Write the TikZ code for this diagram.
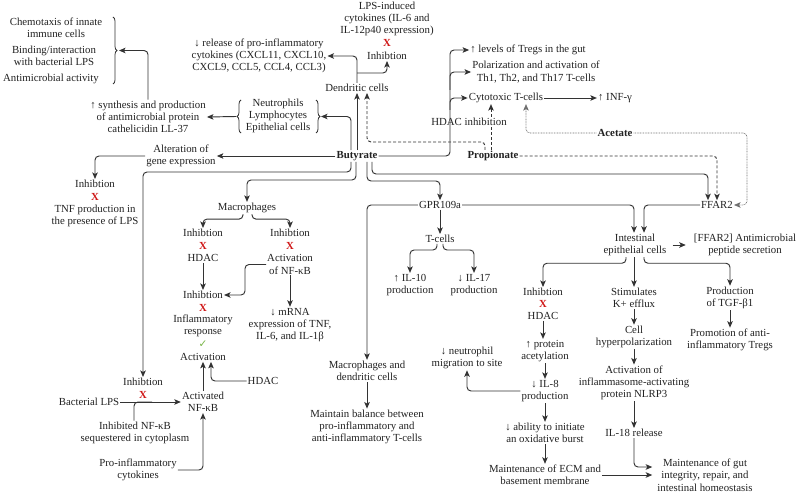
\documentclass[tikz,border=0pt]{standalone}
\usepackage{fontspec}
\setmainfont{Liberation Serif}
\newfontfamily\djv{DejaVu Sans}
\usetikzlibrary{arrows.meta,decorations.pathreplacing,calc}
\definecolor{lc}{HTML}{333333}
\definecolor{tc}{HTML}{222222}
\definecolor{xred}{HTML}{D01818}
\definecolor{okg}{HTML}{7AB648}
\begin{document}
\begin{tikzpicture}[x=1pt,y=-1pt,
  every node/.style={font=\fontsize{10.8}{12.3}\selectfont, text=tc, align=center, inner sep=1pt},
  xr/.style={text=xred, font=\fontsize{10.8}{12.3}\selectfont\bfseries},
  bold/.style={font=\fontsize{10.8}{12.3}\selectfont\bfseries},
  ln/.style={draw=lc, line width=0.95pt, rounded corners=4pt},
  ar/.style={ln, -{Stealth[length=6.5pt,width=5.5pt,inset=1.5pt]}},
  dar/.style={ar, dash pattern=on 3pt off 2pt},
  oar/.style={ar, draw=lc!70, line width=0.7pt, dash pattern=on 0.8pt off 0.8pt},
  brc/.style={draw=lc, line width=0.8pt, decorate, decoration={brace, amplitude=4pt}}]
\fill[white] (0,0) rectangle (800,494);
\useasboundingbox (0,0) rectangle (800,494);

% ---- top left
\node (chemo) at (56,28) {Chemotaxis of innate\\immune cells};
\node (bind) at (54,56) {Binding/interaction\\with bacterial LPS};
\node (amic) at (51,79) {Antimicrobial activity};
\draw[brc] (113,17) -- (113,84);
\coordinate (b1) at (119,50.5);
\node (synth) at (148,117) {↑ synthesis and production\\of antimicrobial protein\\cathelicidin LL-37};
\node (neut) at (278,116) {Neutrophils\\Lymphocytes\\Epithelial cells};
\draw[brc] (241,133) -- (241,100);
\draw[brc] (316,100) -- (316,133);
\coordinate (nbl) at (236,116.5);
\coordinate (nbr) at (321,116.5);

% ---- dendritic
\node (rel) at (259,56) {↓ release of pro-inflammatory\\cytokines (CXCL11, CXCL10,\\CXCL9, CCL5, CCL4, CCL3)};
\node (lpsc) at (387,19) {LPS-induced\\cytokines (IL-6 and\\IL-12p40 expression)};
\node[xr] (x1) at (387,43) {X};
\node (inh1) at (387,56) {Inhibtion};
\node (dc) at (357,88) {Dendritic cells};
\node[bold] (bu) at (357,156) {Butyrate};

% ---- top right
\node (tregs) at (528,50) {↑ levels of Tregs in the gut};
\node (pol) at (536,72) {Polarization and activation of\\Th1, Th2, and Th17 T-cells};
\node (cyt) at (506,98) {Cytotoxic T-cells};
\node (inf) at (615,98) {↑ INF-γ};
\node (hdi) at (469,122) {HDAC inhibition};
\node[bold] (prop) at (493,156) {Propionate};
\node[bold] (acet2) at (615,133) {Acetate};

% ---- left
\node (alt) at (181,156) {Alteration of\\gene expression};
\node (inhL) at (95,184) {Inhibtion};
\node[xr] (xL) at (95,197) {X};
\node (tnf) at (95,216) {TNF production in\\the presence of LPS};

% ---- macrophages
\node (mac) at (247,208) {Macrophages};
\node (mi1a) at (203,233) {Inhibtion};
\node[xr] (mi1x) at (203,246) {X};
\node (mi1h) at (203,258) {HDAC};
\node (mi2a) at (290,233) {Inhibtion};
\node[xr] (mi2x) at (290,246) {X};
\node (mi2n) at (290,264.5) {Activation\\of NF-κB};
\node (inh2) at (203,295) {Inhibtion};
\node[xr] (x2) at (203,308) {X};
\node (infl) at (203,326) {Inflammatory\\response};
\node[text=okg, font=\djv\fontsize{10.5}{11}\selectfont\bfseries] (chk) at (203,344) {✓};
\node (act) at (203,357) {Activation};
\node (mrna) at (290,325) {↓ mRNA\\expression of TNF,\\IL-6, and IL-1β};
\node (hdac2) at (263,381) {HDAC};
\node (actnf) at (203,402) {Activated\\NF-κB};
\node (inhB) at (143,382) {Inhibtion};
\node[xr] (xB) at (143,395) {X};
\node (lps) at (89,402) {Bacterial LPS};
\node (inhnf) at (135,433) {Inhibited NF-κB\\sequestered in cytoplasm};
\node (proinf) at (138,470) {Pro-inflammatory\\cytokines};

% ---- GPR109a
\node (gpr) at (440,205) {GPR109a};
\node (tc) at (440,239) {T-cells};
\node (il10) at (410,285) {↑ IL-10\\production};
\node (il17) at (474,285) {↓ IL-17\\production};
\node (macdc) at (367,371) {Macrophages and\\dendritic cells};
\node (bal) at (367,427) {Maintain balance between\\pro-inflammatory and\\anti-inflammatory T-cells};

% ---- FFAR2 / epithelial
\node (ffar) at (717,205) {FFAR2};
\node (iec) at (635,245) {Intestinal\\epithelial cells};
\node (ffs) at (745,245) {[FFAR2] Antimicrobial\\peptide secretion};
\node (iha) at (543,292) {Inhibtion};
\node[xr] (ihx) at (543,304) {X};
\node (ihh) at (543,316) {HDAC};
\node (stim) at (634,298) {Stimulates\\K+ efflux};
\node (tgf) at (730,298) {Production\\of TGF-β1};
\node (pacet) at (545,351) {↑ protein\\acetylation};
\node (il8) at (545,391) {↓ IL-8\\production};
\node (neu) at (467,358) {↓ neutrophil\\migration to site};
\node (oxb) at (545,433) {↓ ability to initiate\\an oxidative burst};
\node (ecm) at (545,475) {Maintenance of ECM and\\basement membrane};
\node (hyp) at (634,337) {Cell\\hyperpolarization};
\node (nlrp) at (634,383) {Activation of\\inflammasome-activating\\protein NLRP3};
\node (il18) at (634,433) {IL-18 release};
\node (gut) at (705,475) {Maintenance of gut\\integrity, repair, and\\intestinal homeostasis};
\node (treg) at (730,340) {Promotion of anti-\\inflammatory Tregs};

% ================= connectors
\draw[ar] (synth.north) |- (b1);
\draw[ar] (nbl) -- (synth.east);
\draw[ar] ([xshift=-6pt]bu.north) |- (nbr);
\draw[ar] (bu.north) -- (dc.south);
\draw[ar] (dc.north) |- (rel.east);
\draw[ar] ([yshift=10pt]dc.north) -| (inh1.south);

\draw[ar] (bu.east) -| (450,80) |- (tregs.west);
\draw[ar] (450,90) |- (pol.west);
\draw[ar] (450,110) |- (cyt.west);
\draw[ar] (cyt.east) -- (inf.west);

\draw[ln, dash pattern=on 3pt off 2pt] ([xshift=-2pt]prop.north) -- ([xshift=-2pt]prop.north |- hdi.south);
\draw[dar] ([xshift=-2pt]prop.north |- hdi.north) -- ([xshift=-2pt]prop.north |- cyt.south);
\draw[dar] ([xshift=-8pt]prop.north) |- (367,142) -- ([xshift=10pt]dc.south);
\draw[dar] (prop.east) -| (ffar.north);

\draw[oar] (acet2.west) -| ([xshift=20pt]cyt.south);
\draw[oar] (acet2.east) -| ($(ffar.east)+(13,0)$) -- (ffar.east);

\draw[ar] (bu.west) -- (alt.east);
\draw[ar] (alt.west) -| (inhL.north);
\draw[ar] ([xshift=-6pt]bu.south) |- (143,172) -- (inhB.north);
\draw[ar] ([xshift=-1pt]bu.south) |- (247,180) -- (mac.north);
\draw[ar] ([xshift=10pt]bu.south) |- (440,181) -- (gpr.north);
\draw[ar] ([xshift=15pt]bu.south) |- (708,174) -- ([xshift=-9pt]ffar.north);

\draw[ar] ([xshift=-4pt]mac.south) -- ++(0,5) -| (mi1a.north);
\draw[ar] ([xshift=5pt]mac.south) -- ++(0,5) -| (mi2a.north);
\draw[ar] (mi1h.south) -- (inh2.north);
\draw[ar] (mi2n.west) -| (245,295) -- (inh2.east);
\draw[ar] (mi2n.south) -- (mrna.north);
\draw[ar] (actnf.north) -- (act.south);
\draw[ar] (hdac2.west) -| ([xshift=8pt]act.south);
\draw[ar] (lps.east) -- (actnf.west);
\draw[ln] ([xshift=-1pt]inhnf.north) |- (152,402);
\draw[ar] (proinf.east) -| (actnf.south);

\draw[ar] (gpr.west) -| (macdc.north);
\draw[ar] (macdc.south) -- (bal.north);
\draw[ar] (gpr.south) -- (tc.north);
\draw[ar] ([xshift=-3pt]tc.south) -- ++(0,6) -| (il10.north);
\draw[ar] ([xshift=3pt]tc.south) -- ++(0,6) -| (il17.north);
\draw[ar] (gpr.east) -| ([xshift=-1pt]iec.north);
\draw[ar] (ffar.west) -| ([xshift=9pt]iec.north);

\draw[ar] ([xshift=5pt]iec.east) -- ([xshift=-7pt]ffs.west);
\draw[ar] ([xshift=-9pt]iec.south) -- ++(0,6) -| (iha.north);
\draw[ar] ([xshift=-1pt]iec.south) -- ([xshift=-1pt]iec.south |- stim.north);
\draw[ar] ([xshift=9pt]iec.south) -- ++(0,6) -| (tgf.north);
\draw[ar] (ihh.south) -- (ihh.south |- pacet.north);
\draw[ar] (pacet.south) -- (il8.north);
\draw[ar] (il8.west) -| (neu.south);
\draw[ar] (il8.south) -- (oxb.north);
\draw[ar] (oxb.south) -- (ecm.north);
\draw[ar] (ecm.east) -- ([xshift=-4pt]gut.west);
\draw[ar] (stim.south) -- (hyp.north);
\draw[ar] (hyp.south) -- (nlrp.north);
\draw[ar] (nlrp.south) -- (il18.north);
\draw[ar] (il18.south) |- ([shift={(-4pt,8pt)}]gut.west);
\draw[ar] (tgf.south) -- (treg.north);
\end{tikzpicture}
\end{document}
